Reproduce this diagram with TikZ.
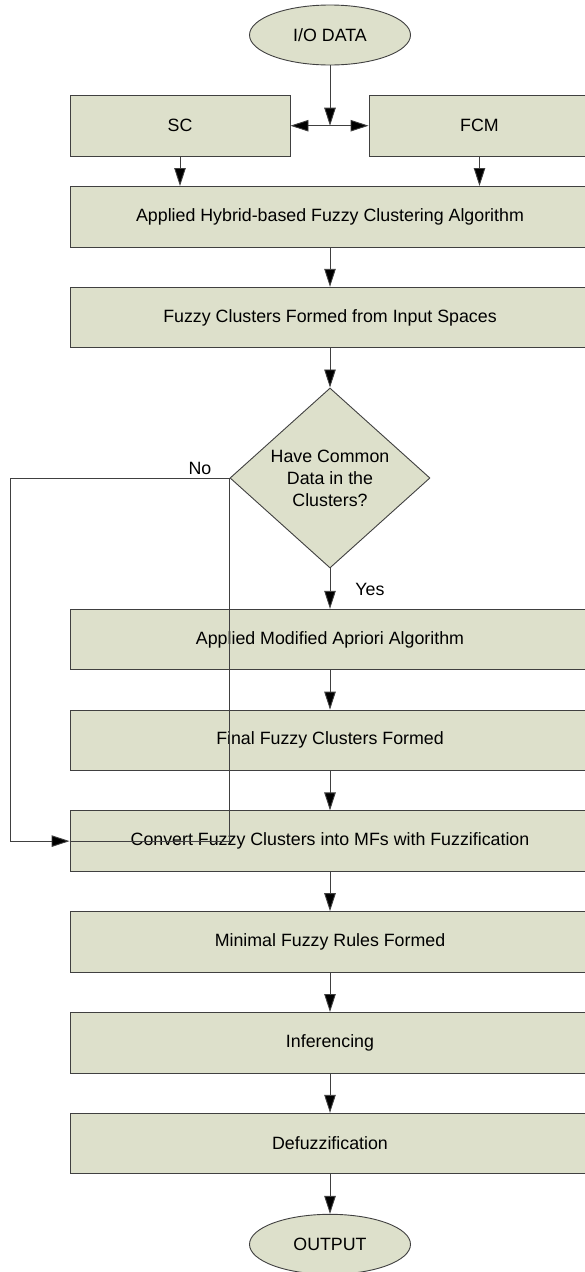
\documentclass[tikz,border=0pt]{standalone}
\usepackage{fontspec}
\setmainfont{Liberation Sans}
\usetikzlibrary{shapes.geometric,arrows.meta}

\definecolor{boxfill}{RGB}{221,224,203}
\definecolor{edgegray}{RGB}{64,64,64}

\begin{document}
\begin{tikzpicture}[x=1pt,y=-1pt,
  font=\fontsize{17.8}{22}\selectfont,
  proc/.style={draw=edgegray,fill=boxfill,line width=0.9pt,rectangle,inner sep=0pt,
    minimum width=520pt,minimum height=60.5pt},
  side/.style={proc,minimum width=220pt},
  term/.style={draw=edgegray,fill=boxfill,line width=0.9pt,ellipse,inner sep=0pt,
    minimum width=161pt,minimum height=60pt},
  decide/.style={draw=edgegray,fill=boxfill,line width=0.9pt,diamond,inner sep=-30pt,
    minimum width=200pt,minimum height=180pt,align=center},
  conn/.style={draw=edgegray,line width=0.9pt},
  flow/.style={conn,-{Triangle[length=18pt,width=11.5pt,fill=black]}},
  lbl/.style={inner sep=0pt}
]
\useasboundingbox (0,0) rectangle (585,1272);
\clip (0,0) rectangle (585,1272);

% terminals, processes and the decision
\node[term] (io) at (330,35) {I/O DATA};
\node[side] (sc) at (180,125.7) {SC};
\node[side,minimum width=221pt] (fcm) at (479.5,125.7) {FCM};
\node[proc] (app) at (330,216.7) {Applied Hybrid-based Fuzzy Clustering Algorithm};
\node[proc] (fcs) at (330,317.5) {Fuzzy Clusters Formed from Input Spaces};
\node[decide] (dec) at (330,478) {Have Common\\Data in the\\Clusters?};
\node[proc] (apr) at (330,639.5) {Applied Modified Apriori Algorithm};
\node[proc] (fin) at (330,740.3) {Final Fuzzy Clusters Formed};
\node[proc] (conv) at (330,841.1) {Convert Fuzzy Clusters into MFs with Fuzzification};
\node[proc] (mfr) at (330,941.9) {Minimal Fuzzy Rules Formed};
\node[proc] (inf) at (330,1042.7) {Inferencing};
\node[proc] (defz) at (330,1143.5) {Defuzzification};
\node[term] (out) at (330,1244.3) {OUTPUT};

% split of the input data
\coordinate (split) at (330,125.7);
\draw[flow] (io.south) -- (split);
\draw[flow] (split) -- (sc.east);
\draw[flow] (split) -- (fcm.west);
\draw[flow] (sc.south) -- (sc.south |- app.north);
\draw[flow] (fcm.south) -- (fcm.south |- app.north);

% main chain
\draw[flow] (app) -- (fcs);
\draw[flow] (fcs) -- (dec);
\draw[flow] (dec) -- (apr);
\draw[flow] (apr) -- (fin);
\draw[flow] (fin) -- (conv);
\draw[flow] (conv) -- (mfr);
\draw[flow] (mfr) -- (inf);
\draw[flow] (inf) -- (defz);
\draw[flow] (defz) -- (out);

% the "No" branch
\coordinate (nobend) at (10,478);
\draw[flow] (dec.west) -- (nobend) |- (conv.west);
\draw[conn] (dec.west) |- (conv.west);

\node[lbl] (no) at (200,468) {No};
\node[lbl] (yes) at (370,589) {Yes};
\end{tikzpicture}
\end{document}
